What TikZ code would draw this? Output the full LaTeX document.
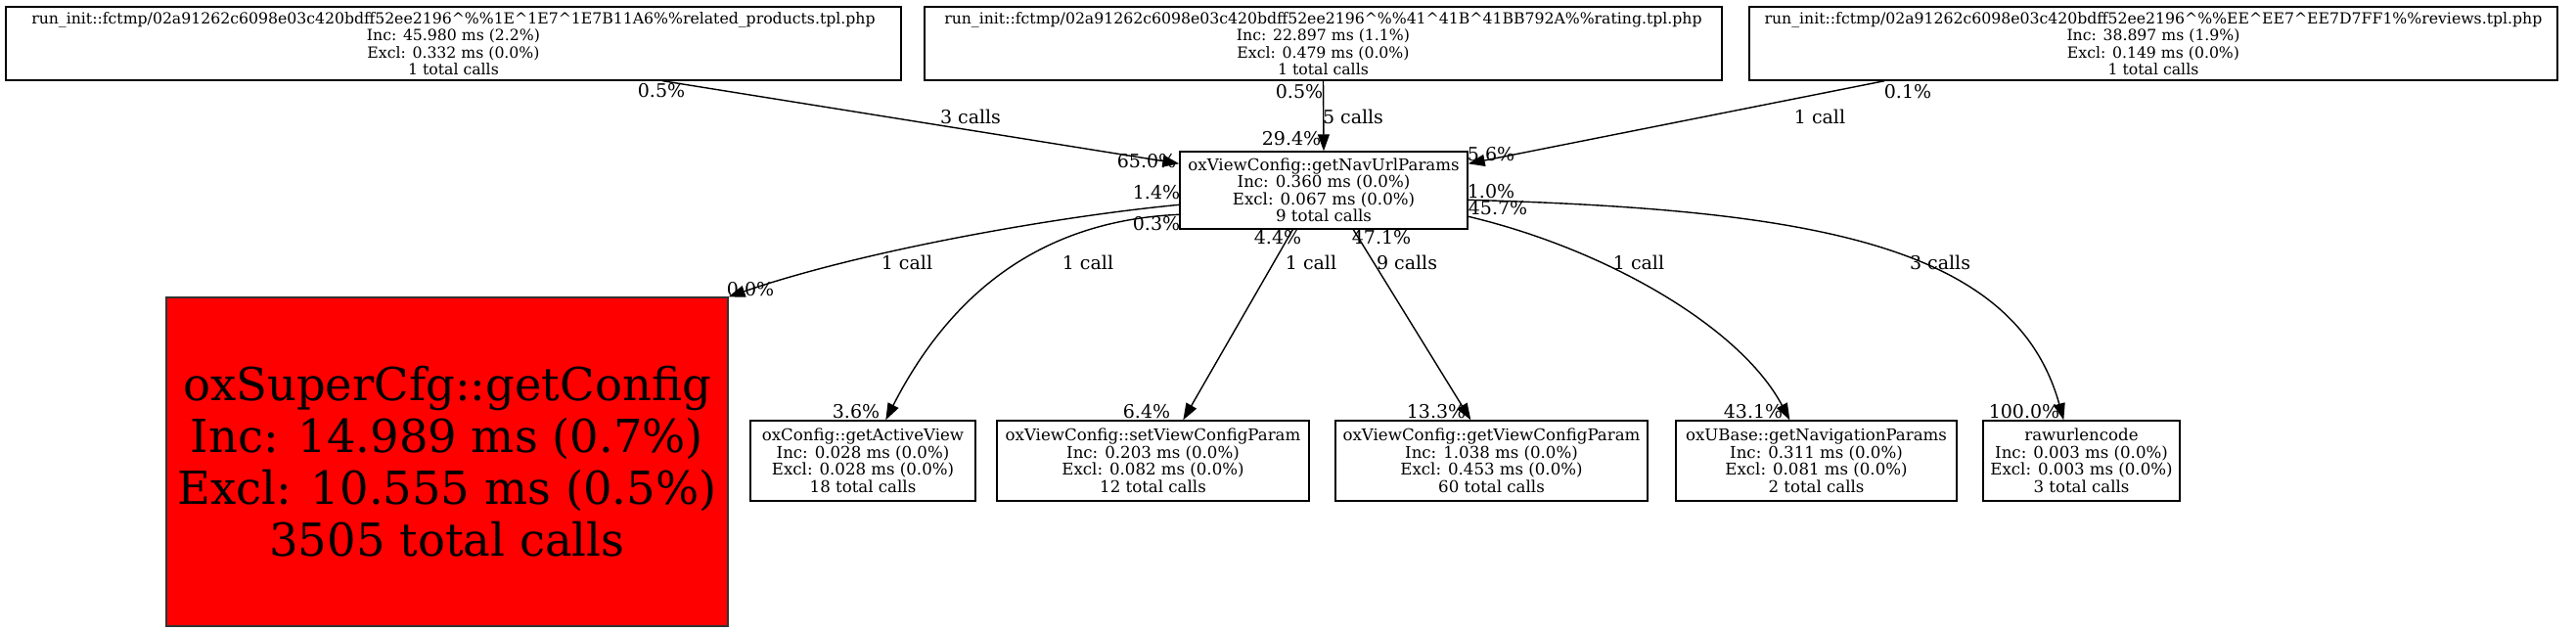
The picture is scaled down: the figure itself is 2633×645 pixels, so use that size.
\documentclass[tikz,border=0pt]{standalone}
\usepackage{fontspec}
\setmainfont{DejaVu Serif}
\usetikzlibrary{arrows.meta}
\begin{document}
\begin{tikzpicture}[x=1pt,y=-1pt,
  box/.style={draw=black, line width=1.4pt, inner sep=0pt, align=center, font=\fontsize{16.6}{17.5}\selectfont},
  topbox/.style={box, font=\fontsize{15.7}{17.5}\selectfont},
  elab/.style={inner sep=0pt, font=\fontsize{19}{20}\selectfont},
  edge/.style={line width=1.4pt, -{Triangle[length=17pt,width=12pt]}}]
\useasboundingbox (0,0) rectangle (2633,645);
% top nodes
\node[topbox, minimum width=915pt, minimum height=75pt] (t1) at (463.5,44.5) {run\_init::fctmp/02a91262c6098e03c420bdff52ee2196\textasciicircum\%\%1E\textasciicircum1E7\textasciicircum1E7B11A6\%\%related\_products.tpl.php\\Inc: 45.980 ms (2.2\%)\\Excl: 0.332 ms (0.0\%)\\1 total calls};
\node[topbox, minimum width=815pt, minimum height=75pt] (t2) at (1352.5,44.5) {run\_init::fctmp/02a91262c6098e03c420bdff52ee2196\textasciicircum\%\%41\textasciicircum41B\textasciicircum41BB792A\%\%rating.tpl.php\\Inc: 22.897 ms (1.1\%)\\Excl: 0.479 ms (0.0\%)\\1 total calls};
\node[topbox, minimum width=826pt, minimum height=75pt] (t3) at (2201,44.5) {run\_init::fctmp/02a91262c6098e03c420bdff52ee2196\textasciicircum\%\%EE\textasciicircum EE7\textasciicircum EE7D7FF1\%\%reviews.tpl.php\\Inc: 38.897 ms (1.9\%)\\Excl: 0.149 ms (0.0\%)\\1 total calls};
% center node
\node[box, minimum width=294pt, minimum height=79pt] (nav) at (1353,194.5) {oxViewConfig::getNavUrlParams\\Inc: 0.360 ms (0.0\%)\\Excl: 0.067 ms (0.0\%)\\9 total calls};
% red node
\node[box, draw=black!80, line width=1.2pt, fill=red, minimum width=574pt, minimum height=336pt, font=\fontsize{46.5}{53}\selectfont] (red) at (457,472) {oxSuperCfg::getConfig\\Inc: 14.989 ms (0.7\%)\\Excl: 10.555 ms (0.5\%)\\3505 total calls};
% bottom nodes
\node[box, minimum width=230pt, minimum height=82pt] (gav) at (882,471) {oxConfig::getActiveView\\Inc: 0.028 ms (0.0\%)\\Excl: 0.028 ms (0.0\%)\\18 total calls};
\node[box, minimum width=319pt, minimum height=82pt] (svc) at (1178.5,471) {oxViewConfig::setViewConfigParam\\Inc: 0.203 ms (0.0\%)\\Excl: 0.082 ms (0.0\%)\\12 total calls};
\node[box, minimum width=319pt, minimum height=82pt] (gvc) at (1524.5,471) {oxViewConfig::getViewConfigParam\\Inc: 1.038 ms (0.0\%)\\Excl: 0.453 ms (0.0\%)\\60 total calls};
\node[box, minimum width=287pt, minimum height=82pt] (gnp) at (1856.5,471) {oxUBase::getNavigationParams\\Inc: 0.311 ms (0.0\%)\\Excl: 0.081 ms (0.0\%)\\2 total calls};
\node[box, minimum width=201pt, minimum height=82pt] (raw) at (2127.5,471) {rawurlencode\\Inc: 0.003 ms (0.0\%)\\Excl: 0.003 ms (0.0\%)\\3 total calls};
% edges
\draw[edge] ([xshift=672pt]t1.south west) -- ([yshift=-13pt]nav.north west);
\draw[edge] (t2.south) -- (nav.north);
\draw[edge] ([xshift=139pt]t3.south west) -- ([yshift=-13pt]nav.north east);
\draw[edge] ([yshift=-55pt]nav.north west) .. controls +(-126,12) and +(136,-47) .. (red.north east);
\draw[edge] ([yshift=-65pt]nav.north west) .. controls +(-136,6) and +(69,-135) .. ([xshift=139pt]gav.north west);
\draw[edge] ([xshift=116pt]nav.south west) -- ([xshift=191pt]svc.north west);
\draw[edge] ([xshift=178pt]nav.south west) -- ([xshift=139pt]gvc.north west);
\draw[edge] ([yshift=-67pt]nav.north east) .. controls +(140,33) and +(-50,-95) .. ([xshift=117pt]gnp.north west);
\draw[edge] ([yshift=-50pt]nav.north east) .. controls +(350,10) and +(-50,-180) .. ([xshift=83pt]raw.north west);
% edge labels
\node[elab] (a1) at (676,93) {0.5\%};
\node[elab] (a2) at (992,119) {3 calls};
\node[elab] (a3) at (1172,165) {65.0\%};
\node[elab] (b1) at (1328,94) {0.5\%};
\node[elab] (b2) at (1383,119) {5 calls};
\node[elab] (b3) at (1320,142) {29.4\%};
\node[elab] (c1) at (1950,94) {0.1\%};
\node[elab] (c2) at (1860,119) {1 call};
\node[elab] (c3) at (1524,158) {5.6\%};
\node[elab] (d1) at (1182,197) {1.4\%};
\node[elab] (d2) at (927,268) {1 call};
\node[elab] (d3) at (767,296) {0.0\%};
\node[elab] (e1) at (1182,229) {0.3\%};
\node[elab] (e2) at (1112,268) {1 call};
\node[elab] (e3) at (875,421) {3.6\%};
\node[elab] (f1) at (1306,243) {4.4\%};
\node[elab] (f2) at (1340,268) {1 call};
\node[elab] (f3) at (1172,421) {6.4\%};
\node[elab] (g1) at (1412,243) {47.1\%};
\node[elab] (g2) at (1438,268) {9 calls};
\node[elab] (g3) at (1468,421) {13.3\%};
\node[elab] (h1) at (1524,196) {1.0\%};
\node[elab] (h2) at (1675,268) {1 call};
\node[elab] (h3) at (1792,421) {43.1\%};
\node[elab] (i1) at (1531,213) {45.7\%};
\node[elab] (i2) at (1983,268) {3 calls};
\node[elab] (i3) at (2069,421) {100.0\%};
\end{tikzpicture}
\end{document}
